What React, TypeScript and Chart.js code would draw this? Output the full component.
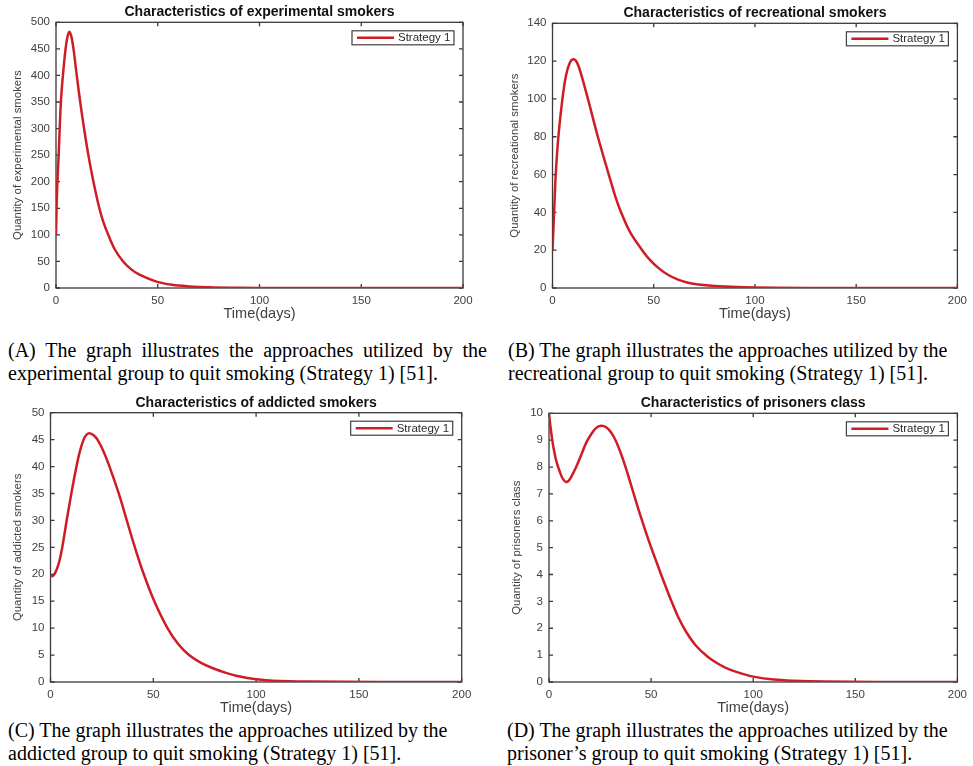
import React, { useEffect, useRef } from 'react';
import { Chart, registerables } from 'chart.js';

Chart.register(...registerables);

// ---------- data ----------
const xTickStep = 50;
const xMin = 0;
const xMax = 200;

const expT = [0, 0.5, 1.3, 2.4, 3.4, 4.7, 5.6, 6.5, 7.5, 8.6, 10.2, 11.9, 13.8, 15.9, 18.4, 21.3, 23.3, 25.7, 29, 33, 37, 41, 49, 57, 65.5, 75, 90, 110, 140, 200];
const expY = [100, 180, 250, 350, 400, 450, 472, 482, 474, 450, 400, 350, 300, 250, 200, 150, 124, 100, 72, 50, 35, 25, 12.5, 6, 3, 1.3, 0.4, 0.08, 0.01, 0];

const recT = [0, 0.8, 1.6, 2.9, 4.9, 6.7, 8.5, 10.2, 12, 14.3, 17.5, 22.4, 27.8, 31, 33.8, 38.1, 44.3, 48, 52.4, 57, 62, 67, 72, 80, 91, 110, 140, 200];
const recY = [20, 40, 60, 80, 100, 112.5, 119, 121, 119.5, 112.5, 100, 80, 60, 48.5, 40.2, 30, 20, 15, 10.5, 7, 4.4, 2.8, 1.8, 1.0, 0.5, 0.15, 0.02, 0];

const addT = [0, 1, 2, 3, 4, 5, 6, 8, 10, 12, 14, 16, 17.5, 19, 21, 23, 25.8, 28.7, 33.2, 37.1, 40.8, 45.2, 50.5, 56.9, 62, 67.4, 73, 78.7, 85, 91.6, 100, 108, 125, 160, 200];
const addY = [19.8, 19.65, 20.1, 20.9, 22.0, 23.6, 25.6, 30.3, 34.7, 38.8, 42.4, 44.9, 45.9, 46.2, 45.8, 44.9, 42.8, 40, 35, 30, 25.3, 20.2, 15, 10, 7.1, 5, 3.6, 2.6, 1.75, 1.05, 0.5, 0.25, 0.08, 0.01, 0];

const priT = [0, 0.5, 1, 1.6, 2.5, 3.5, 4.5, 6, 7, 8.2, 9.5, 11, 13.3, 15.5, 18.2, 20.5, 23, 25.5, 28, 30.5, 32.6, 35, 37.5, 39.5, 41.5, 43.5, 45.5, 48, 50.3, 52.7, 55.1, 57.5, 60, 63.5, 67.2, 72, 77.7, 83, 88, 94, 100, 110, 120, 135, 160, 200];
const priY = [10, 9.65, 9.35, 9.0, 8.6, 8.25, 8.0, 7.68, 7.54, 7.45, 7.48, 7.65, 8.0, 8.4, 8.9, 9.2, 9.45, 9.54, 9.48, 9.28, 9.0, 8.55, 8.0, 7.5, 7.0, 6.5, 6.02, 5.45, 4.95, 4.45, 3.96, 3.48, 3.0, 2.38, 1.86, 1.35, 0.94, 0.67, 0.48, 0.32, 0.2, 0.09, 0.045, 0.015, 0.003, 0];

const seriesLabel = 'Strategy 1';
const xAxisTitle = 'Time(days)';

const chartTitles = [
  'Characteristics of experimental smokers',
  'Characteristics of recreational smokers',
  'Characteristics of addicted smokers',
  'Characteristics of prisoners class',
];
const yAxisTitles = [
  'Quantity of experimental smokers',
  'Quantity of recreational smokers',
  'Quantity of addicted smokers',
  'Quantity of prisoners class',
];
const yMaxes = [500, 140, 50, 10];
const ySteps = [50, 20, 5, 1];

const captionsLine1 = [
  '(A) The graph illustrates the approaches utilized by the',
  '(B) The graph illustrates the approaches utilized by the',
  '(C) The graph illustrates the approaches utilized by the',
  '(D) The graph illustrates the approaches utilized by the',
];
const captionsLine2 = [
  'experimental group to quit smoking (Strategy 1) [51].',
  'recreational group to quit smoking (Strategy 1) [51].',
  'addicted group to quit smoking (Strategy 1) [51].',
  'prisoner\u2019s group to quit smoking (Strategy 1) [51].',
];

// ---------- layout (styles) ----------
const SANS = "'Liberation Sans', Arial, Helvetica, sans-serif";
const SERIF = "'Liberation Serif', 'Times New Roman', serif";
const LINE_RED = '#cf1d25';
const AXIS_GRAY = '#3a3a3a';
const TITLE_SIZE = 14;
const XTITLE_SIZE = 14.5;
const YTITLE_SIZE = 11.4;
const TICK_SIZE = 11.5;

type PanelGeom = {
  left: number; top: number; w: number; h: number;
  yAxisW: number; rightPad: number; plotTop: number; yTitleX: number;
};

const geoms: PanelGeom[] = [
  { left: 0, top: 0, w: 490, h: 322, yAxisW: 56, rightPad: 27, plotTop: 22.3, yTitleX: 18.3 },
  { left: 490, top: 0, w: 483, h: 322, yAxisW: 62.5, rightPad: 12, plotTop: 23.3, yTitleX: 25 },
  { left: 0, top: 390, w: 490, h: 326, yAxisW: 50.5, rightPad: 28.3, plotTop: 22.7, yTitleX: 18.3 },
  { left: 490, top: 390, w: 483, h: 326, yAxisW: 59, rightPad: 13, plotTop: 23.3, yTitleX: 27.3 },
];

const framePlugin = {
  id: 'matlabFrame',
  beforeDatasetsDraw(chart: any) {
    const { ctx, chartArea: a, scales } = chart;
    ctx.save();
    ctx.strokeStyle = AXIS_GRAY;
    ctx.lineWidth = 1.3;
    ctx.strokeRect(a.left, a.top, a.right - a.left, a.bottom - a.top);
    const L = 4;
    ctx.beginPath();
    scales.x.ticks.forEach((t: any) => {
      const px = scales.x.getPixelForValue(t.value);
      ctx.moveTo(px, a.bottom); ctx.lineTo(px, a.bottom - L);
      ctx.moveTo(px, a.top); ctx.lineTo(px, a.top + L);
    });
    scales.y.ticks.forEach((t: any) => {
      const py = scales.y.getPixelForValue(t.value);
      ctx.moveTo(a.left, py); ctx.lineTo(a.left + L, py);
      ctx.moveTo(a.right, py); ctx.lineTo(a.right - L, py);
    });
    ctx.stroke();
    ctx.restore();
  },
  afterDatasetsDraw(chart: any) {
    const { ctx, chartArea: a } = chart;
    const ds = chart.data.datasets[0];
    const bw = 102, bh = 14;
    const bx = a.right - 9 - bw;
    const by = a.top + 8.5;
    ctx.save();
    ctx.fillStyle = '#ffffff';
    ctx.fillRect(bx, by, bw, bh);
    ctx.strokeStyle = '#404040';
    ctx.lineWidth = 1.2;
    ctx.strokeRect(bx, by, bw, bh);
    ctx.strokeStyle = ds.borderColor;
    ctx.lineWidth = 2.5;
    ctx.beginPath();
    ctx.moveTo(bx + 5, by + bh / 2);
    ctx.lineTo(bx + 42, by + bh / 2);
    ctx.stroke();
    ctx.fillStyle = '#2a2a2a';
    ctx.font = `11.5px ${SANS}`;
    ctx.textBaseline = 'middle';
    ctx.textAlign = 'left';
    ctx.fillText(ds.label, bx + 46, by + bh / 2 + 0.5);
    ctx.restore();
  },
};

function Panel({ idx, ts, ys }: { idx: number; ts: number[]; ys: number[] }) {
  const ref = useRef<HTMLCanvasElement | null>(null);
  const g = geoms[idx];
  useEffect(() => {
    if (!ref.current) return;
    const titleLH = TITLE_SIZE * 1.2;
    const yTitleLH = YTITLE_SIZE * 1.2;
    const xTitleLH = XTITLE_SIZE * 1.2;
    const chart = new Chart(ref.current, {
      type: 'line',
      data: {
        datasets: [
          {
            label: seriesLabel,
            data: ts.map((t, i) => ({ x: t, y: ys[i] })),
            borderColor: LINE_RED,
            backgroundColor: LINE_RED,
            borderWidth: 2.5,
            pointRadius: 0,
            tension: 0.35,
            fill: false,
          },
        ],
      },
      options: {
        animation: false,
        responsive: false,
        maintainAspectRatio: false,
        devicePixelRatio: 1,
        layout: { padding: { left: 0, top: 0, bottom: 0, right: g.rightPad } },
        plugins: {
          legend: { display: false },
          tooltip: { enabled: false },
          title: {
            display: true,
            text: chartTitles[idx],
            fullSize: false,
            color: '#111',
            font: { family: SANS, size: TITLE_SIZE, weight: 'bold' },
            padding: { top: g.plotTop - 10 - titleLH / 2, bottom: 10 - titleLH / 2 },
          },
        },
        scales: {
          x: {
            type: 'linear',
            min: xMin,
            max: xMax,
            grid: { display: false, drawTicks: false },
            border: { display: false },
            ticks: {
              stepSize: xTickStep,
              padding: 6,
              color: '#404040',
              font: { family: SANS, size: TICK_SIZE },
              maxRotation: 0,
            },
            title: {
              display: true,
              text: xAxisTitle,
              color: '#404040',
              font: { family: SANS, size: XTITLE_SIZE },
              padding: { top: 0, bottom: 8.5 - xTitleLH / 2 },
            },
            afterFit: (s: any) => { s.height = 34; },
          },
          y: {
            type: 'linear',
            min: 0,
            max: yMaxes[idx],
            grid: { display: false, drawTicks: false },
            border: { display: false },
            ticks: {
              stepSize: ySteps[idx],
              padding: 6,
              color: '#404040',
              font: { family: SANS, size: TICK_SIZE },
            },
            title: {
              display: true,
              text: yAxisTitles[idx],
              color: '#404040',
              font: { family: SANS, size: YTITLE_SIZE },
              padding: { top: g.yTitleX - yTitleLH / 2, bottom: 0 },
            },
            afterFit: (s: any) => { s.width = g.yAxisW; },
          },
        },
      },
      plugins: [framePlugin],
    } as any);
    return () => chart.destroy();
  }, [idx, ts, ys]);
  return (
    <canvas
      ref={ref}
      width={g.w}
      height={g.h}
      style={{ position: 'absolute', left: g.left, top: g.top, width: g.w, height: g.h }}
    />
  );
}

const captionGeom = [
  { left: 8, top: 338.5, justify: true },
  { left: 508, top: 338.5, justify: false },
  { left: 8, top: 719, justify: false },
  { left: 507, top: 719, justify: false },
];

function Caption({ idx }: { idx: number }) {
  const c = captionGeom[idx];
  const base: React.CSSProperties = {
    position: 'absolute',
    left: c.left,
    fontFamily: SERIF,
    fontSize: 20,
    lineHeight: '23px',
    color: '#000',
    whiteSpace: 'nowrap',
  };
  return (
    <>
      <div
        style={{
          ...base,
          top: c.top,
          width: c.justify ? 479 : undefined,
          textAlign: c.justify ? 'justify' : 'left',
          textAlignLast: c.justify ? 'justify' : 'left',
          whiteSpace: c.justify ? 'normal' : 'nowrap',
        } as React.CSSProperties}
      >
        {captionsLine1[idx]}
      </div>
      <div style={{ ...base, top: c.top + 23 }}>{captionsLine2[idx]}</div>
    </>
  );
}

export default function App() {
  return (
    <div
      style={{
        position: 'absolute',
        left: 0,
        top: 0,
        width: 973,
        height: 766,
        background: '#fff',
        overflow: 'hidden',
      }}
    >
      <Panel idx={0} ts={expT} ys={expY} />
      <Panel idx={1} ts={recT} ys={recY} />
      <Panel idx={2} ts={addT} ys={addY} />
      <Panel idx={3} ts={priT} ys={priY} />
      <Caption idx={0} />
      <Caption idx={1} />
      <Caption idx={2} />
      <Caption idx={3} />
    </div>
  );
}
